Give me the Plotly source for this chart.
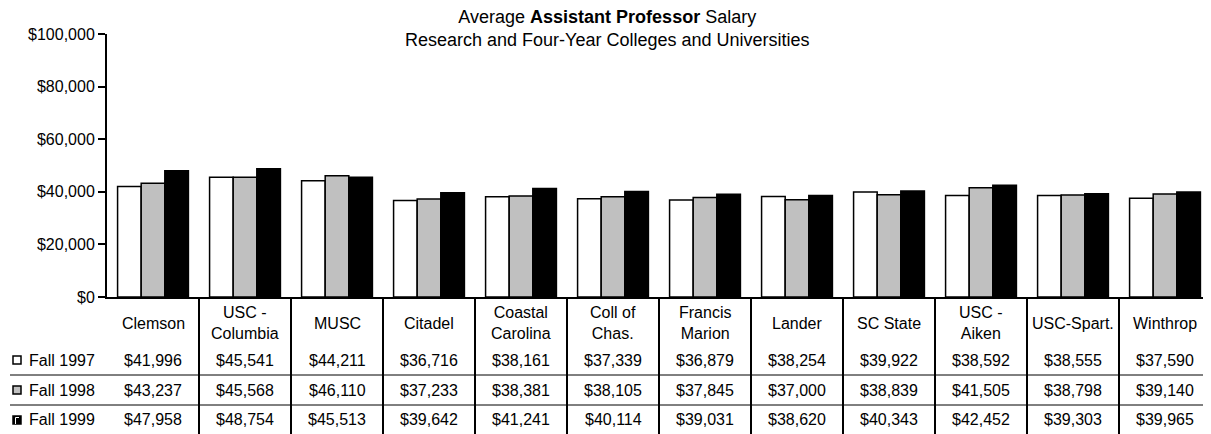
import plotly.graph_objects as go

categories = ["Clemson", "USC - Columbia", "MUSC", "Citadel", "Coastal Carolina",
              "Coll of Chas.", "Francis Marion", "Lander", "SC State", "USC - Aiken",
              "USC-Spart.", "Winthrop"]
category_labels = ["Clemson", "USC -<br>Columbia", "MUSC", "Citadel", "Coastal<br>Carolina",
                   "Coll of<br>Chas.", "Francis<br>Marion", "Lander", "SC State", "USC -<br>Aiken",
                   "USC-Spart.", "Winthrop"]
series_names = ["Fall 1997", "Fall 1998", "Fall 1999"]
fall_1997 = [41996, 45541, 44211, 36716, 38161, 37339, 36879, 38254, 39922, 38592, 38555, 37590]
fall_1998 = [43237, 45568, 46110, 37233, 38381, 38105, 37845, 37000, 38839, 41505, 38798, 39140]
fall_1999 = [47958, 48754, 45513, 39642, 41241, 40114, 39031, 38620, 40343, 42452, 39303, 39965]
y_ticks = [0, 20000, 40000, 60000, 80000, 100000]

series_values = [fall_1997, fall_1998, fall_1999]
colors = ["#FFFFFF", "#C0C0C0", "#000000"]

FONT = "Arial, Liberation Sans, sans-serif"
OFF = 8  # page body margin
W, H = 1211 - OFF, 434 - OFF
ML, MR, MT, MB = 107 - OFF, 0, 34 - OFF, H - (297 - OFF)
PW = W - ML - MR
PH = H - MT - MB


def px_x(px):
    return (px - OFF - ML) / PW


def px_y(py):
    return (H - MB - (py - OFF)) / PH


fig = go.Figure()
for name, vals, col in zip(series_names, series_values, colors):
    fig.add_trace(go.Bar(
        x=categories, y=vals, name=name,
        marker=dict(color=col, line=dict(color="black", width=1.5)),
        showlegend=False, hoverinfo="skip",
    ))

annotations = []
annotations.append(dict(
    text="Average <b>Assistant Professor</b> Salary<br>Research and Four-Year Colleges and Universities",
    xref="paper", yref="paper", x=px_x(607), y=px_y(28), xanchor="center", yanchor="middle",
    showarrow=False, font=dict(family=FONT, size=18, color="black"),
))
for cat, lab in zip(categories, category_labels):
    annotations.append(dict(
        text=lab, xref="x", yref="paper", x=cat, y=px_y(323), xanchor="center",
        yanchor="middle", showarrow=False, font=dict(family=FONT, size=16, color="black"),
    ))
row_centers = [360, 390, 420]
for name, vals, rc in zip(series_names, series_values, row_centers):
    annotations.append(dict(
        text=name, xref="paper", yref="paper", x=px_x(27), y=px_y(rc), xanchor="left",
        yanchor="middle", showarrow=False, font=dict(family=FONT, size=16, color="black"),
    ))
    for cat, v in zip(categories, vals):
        annotations.append(dict(
            text=f"${v:,}", xref="x", yref="paper", x=cat, y=px_y(rc), xanchor="center",
            yanchor="middle", showarrow=False, font=dict(family=FONT, size=16, color="black"),
        ))

shapes = []
for i in range(len(categories) - 1):
    shapes.append(dict(type="line", xref="x", yref="paper", x0=i + 0.5, x1=i + 0.5,
                       y0=0, y1=px_y(434), line=dict(color="black", width=2)))
for py in [375, 405]:
    shapes.append(dict(type="line", xref="paper", yref="paper", x0=px_x(10), x1=px_x(1211),
                       y0=px_y(py), y1=px_y(py), line=dict(color="black", width=1)))
for col, rc in zip(colors, row_centers):
    shapes.append(dict(type="rect", xref="paper", yref="paper",
                       x0=px_x(13), x1=px_x(21), y0=px_y(rc + 4), y1=px_y(rc - 4),
                       fillcolor=col, line=dict(color="black", width=1.5)))
shapes.append(dict(type="path", xref="paper", yref="paper",
                   path=f"M {px_x(15.5)} {px_y(424)} L {px_x(15.5)} {px_y(417.5)} L {px_x(19)} {px_y(417.5)}",
                   line=dict(color="white", width=1)))

fig.update_layout(
    width=W, height=H,
    margin=dict(l=ML, r=MR, t=MT, b=MB, pad=0),
    paper_bgcolor="white", plot_bgcolor="white",
    barmode="group", bargap=0.23, bargroupgap=0,
    font=dict(family=FONT, size=16, color="black"),
    annotations=annotations, shapes=shapes,
    xaxis=dict(showticklabels=False, ticks="", showline=True, linecolor="black", linewidth=2,
               showgrid=False, zeroline=False, range=[-0.5, 11.5], fixedrange=True),
    yaxis=dict(range=[0, 100000], tickvals=y_ticks, tickformat="$,", ticks="outside",
               ticklen=7, tickwidth=2, tickcolor="black", showline=True, linecolor="black",
               linewidth=2, showgrid=False, zeroline=False,
               tickfont=dict(family=FONT, size=16, color="black"), fixedrange=True),
    showlegend=False,
)

fig.write_html("out.html")
